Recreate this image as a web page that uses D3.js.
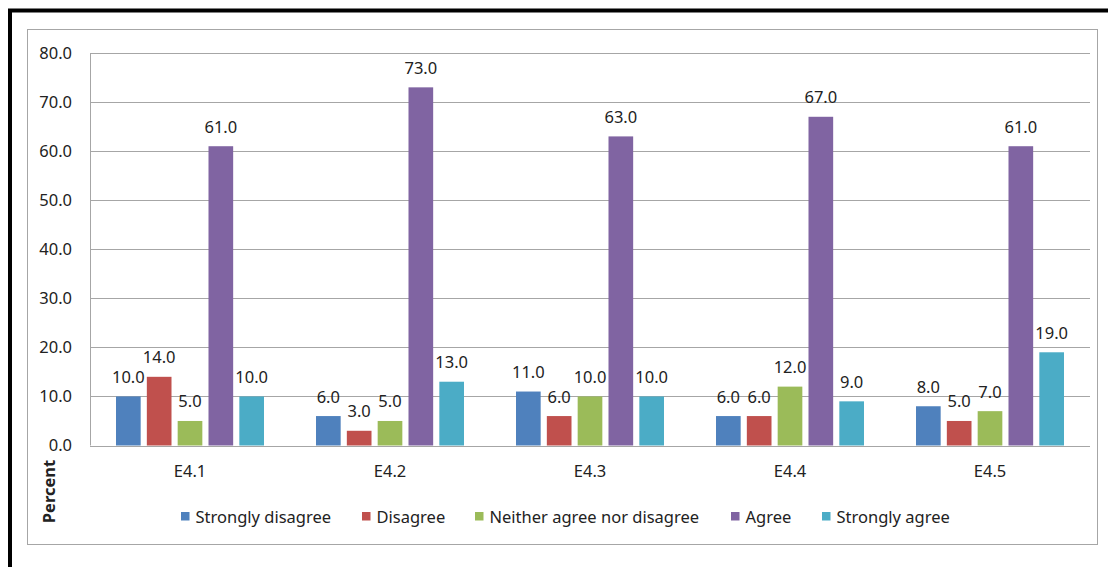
<!DOCTYPE html>
<html>
<head>
<meta charset="utf-8">
<script src="https://cdn.jsdelivr.net/npm/d3@7"></script>
<style>
  html, body { margin: 0; padding: 0; background: #fff; }
  svg { display: block; }
  text { font-family: "Noto Sans", "Open Sans", sans-serif; fill: #222; }
</style>
</head>
<body>
<svg id="chart" width="1108" height="567"></svg>
<script>
// Survey items and response levels
const categories = ["E4.1", "E4.2", "E4.3", "E4.4", "E4.5"];
const seriesNames = ["Strongly disagree", "Disagree", "Neither agree nor disagree", "Agree", "Strongly agree"];
const seriesColors = ["#4F81BD", "#C0504D", "#9BBB59", "#8064A2", "#4BACC6"];

// Percent of respondents per item
const stronglyDisagree = [10, 6, 11, 6, 8];
const disagree = [14, 3, 6, 6, 5];
const neither = [5, 5, 10, 12, 7];
const agree = [61, 73, 63, 67, 61];
const stronglyAgree = [10, 13, 10, 9, 19];

const yTicks = [0, 10, 20, 30, 40, 50, 60, 70, 80];

const seriesValues = [stronglyDisagree, disagree, neither, agree, stronglyAgree];

const FONT = 16.5;
const svg = d3.select("#chart");

// Outer black frame (runs off the right and bottom edges)
svg.append("rect")
  .attr("x", 10).attr("y", 10.5)
  .attr("width", 1120).attr("height", 600)
  .attr("fill", "none").attr("stroke", "#000").attr("stroke-width", 4);

// Chart area border
svg.append("rect")
  .attr("x", 27.5).attr("y", 29.5)
  .attr("width", 1070).attr("height", 515)
  .attr("fill", "#fff").attr("stroke", "#a6a6a6").attr("stroke-width", 1);

const plot = { left: 90, right: 1090, top: 53, bottom: 445.5 };

const y = d3.scaleLinear().domain([0, 80]).range([plot.bottom, plot.top]);
const x0 = d3.scaleBand().domain(categories).range([plot.left, plot.right])
  .paddingInner(0.26).paddingOuter(0.13);
const x1 = d3.scaleBand().domain(seriesNames).range([0, x0.bandwidth()])
  .paddingInner(0.2).paddingOuter(0);

// Gridlines
svg.append("g")
  .selectAll("line")
  .data(yTicks)
  .join("line")
  .attr("x1", plot.left).attr("x2", plot.right)
  .attr("y1", d => Math.round(y(d)) + 0.5).attr("y2", d => Math.round(y(d)) + 0.5)
  .attr("stroke", "#a6a6a6").attr("stroke-width", 1);

// Vertical axis line
svg.append("line")
  .attr("x1", plot.left + 0.5).attr("x2", plot.left + 0.5)
  .attr("y1", plot.top).attr("y2", plot.bottom)
  .attr("stroke", "#a6a6a6");

// Y axis labels
const yAxis = d3.axisLeft(y).tickValues(yTicks).tickFormat(d3.format(".1f")).tickSize(0).tickPadding(18);
const gy = svg.append("g").attr("transform", `translate(${plot.left},0)`).call(yAxis);
gy.select(".domain").remove();
gy.selectAll("text").attr("font-size", FONT).attr("fill", "#222")
  .attr("font-family", "'Noto Sans', sans-serif");

// X axis labels
const xAxis = d3.axisBottom(x0).tickSize(0);
const gx = svg.append("g").attr("transform", `translate(0,${plot.bottom})`).call(xAxis);
gx.select(".domain").remove();
gx.selectAll("text").attr("font-size", FONT).attr("fill", "#222")
  .attr("font-family", "'Noto Sans', sans-serif")
  .attr("y", 31.5).attr("dy", 0);

// Bars and value labels
const groups = svg.append("g")
  .selectAll("g")
  .data(categories)
  .join("g")
  .attr("transform", d => `translate(${x0(d)},0)`);

const cells = groups.selectAll("g.cell")
  .data((c, ci) => seriesNames.map((s, si) => ({ series: s, si, value: seriesValues[si][ci] })))
  .join("g").attr("class", "cell");

cells.append("rect")
  .attr("x", d => x1(d.series))
  .attr("y", d => y(d.value))
  .attr("width", x1.bandwidth())
  .attr("height", d => y(0) - y(d.value))
  .attr("fill", d => seriesColors[d.si]);

cells.append("text")
  .attr("x", d => x1(d.series) + x1.bandwidth() / 2)
  .attr("y", d => y(d.value) - 13.5)
  .attr("text-anchor", "middle")
  .attr("font-size", FONT)
  .text(d => d3.format(".1f")(d.value));

// Axis title
svg.append("text")
  .attr("transform", "translate(55,491.5) rotate(-90)")
  .attr("text-anchor", "middle")
  .attr("font-size", 16.5)
  .attr("font-weight", "bold")
  .text("Percent");

// Legend
const legendX = [181, 362, 475, 731, 822];
const legend = svg.append("g").selectAll("g")
  .data(seriesNames)
  .join("g")
  .attr("transform", (d, i) => `translate(${legendX[i]},523)`);
legend.append("rect")
  .attr("x", 0).attr("y", -11).attr("width", 8.5).attr("height", 8.5)
  .attr("fill", (d, i) => seriesColors[i]);
legend.append("text")
  .attr("x", 14.5).attr("y", 0)
  .attr("font-size", FONT)
  .text(d => d);
</script>
</body>
</html>
